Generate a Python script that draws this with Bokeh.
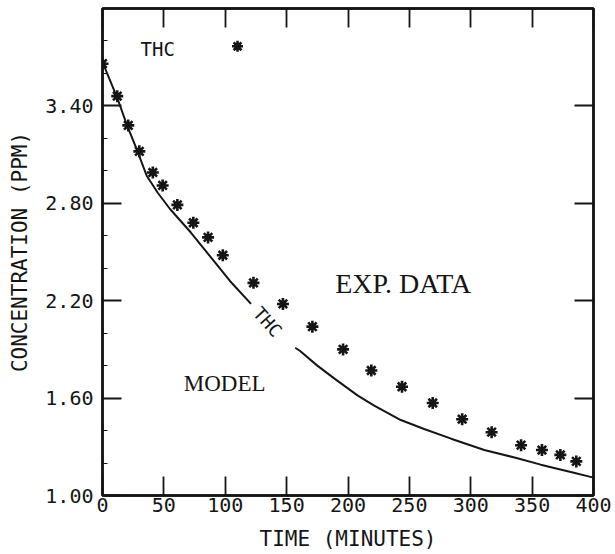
from bokeh.plotting import figure
from bokeh.models import Range1d, LinearAxis, FixedTicker, Label, NumeralTickFormatter
from bokeh.embed import file_html
from bokeh.resources import INLINE

nan = float("nan")

# Experimental data (asterisks)
exp_time = [0, 12, 21, 30, 41, 49, 61, 74, 86, 98, 123, 147, 171, 196, 219,
            244, 269, 293, 317, 341, 358, 373, 386]
exp_conc = [3.66, 3.46, 3.28, 3.12, 2.99, 2.91, 2.79, 2.68, 2.59, 2.48, 2.31,
            2.18, 2.04, 1.90, 1.77, 1.67, 1.57, 1.47, 1.39, 1.31, 1.28, 1.25, 1.21]

# Model curve (gap where the curve label sits)
model_time = [0, 12, 20, 28, 36, 45, 55, 72, 88, 104, 121, nan, 157, 161, 175,
              189, 208, 221, 243, 262, 284, 311, 338, 357, 384, 400]
model_conc = [3.67, 3.45, 3.28, 3.13, 2.97, 2.865, 2.765, 2.62, 2.47, 2.32, 2.18,
              nan, 1.91, 1.89, 1.80, 1.72, 1.615, 1.555, 1.465, 1.41, 1.35, 1.28,
              1.23, 1.19, 1.14, 1.11]

x_ticks = [0, 50, 100, 150, 200, 250, 300, 350, 400]
y_ticks = [1.0, 1.6, 2.2, 2.8, 3.4]
y_minor = [1.2, 1.4, 1.8, 2.0, 2.4, 2.6, 3.0, 3.2, 3.6, 3.8]

INK = "#151515"
MONO = "DejaVu Sans Mono"

p = figure(width=615, height=554, x_range=Range1d(0, 400), y_range=Range1d(1.0, 4.0),
           output_backend="svg", toolbar_location=None,
           min_border_left=102, min_border_right=22, min_border_top=8, min_border_bottom=59)
p.background_fill_color = "white"
p.border_fill_color = "white"
p.xgrid.visible = False
p.ygrid.visible = False
p.outline_line_color = INK
p.outline_line_width = 2.5

# bottom axis
xa = p.xaxis[0]
xa.ticker = FixedTicker(ticks=x_ticks)
xa.axis_label = "TIME (MINUTES)"

# left axis
ya = p.yaxis[0]
ya.ticker = FixedTicker(ticks=y_ticks, minor_ticks=y_minor)
ya.formatter = NumeralTickFormatter(format="0.00")
ya.axis_label = "CONCENTRATION (PPM)"

for ax in (xa, ya):
    ax.axis_line_color = INK
    ax.axis_line_width = 2.5
    ax.major_tick_in = 19
    ax.major_tick_out = 0
    ax.major_tick_line_color = INK
    ax.major_tick_line_width = 1.8
    ax.minor_tick_in = 5
    ax.minor_tick_out = 0
    ax.minor_tick_line_color = INK
    ax.minor_tick_line_width = 1.2
    ax.major_label_text_font = MONO
    ax.major_label_text_font_size = "20px"
    ax.major_label_text_color = INK
    ax.axis_label_text_font = MONO
    ax.axis_label_text_font_size = "21px"
    ax.axis_label_text_font_style = "normal"
    ax.axis_label_text_color = INK
xa.minor_tick_line_color = None
xa.major_label_standoff = 2
xa.axis_label_standoff = 12
ya.major_label_standoff = 9
ya.axis_label_standoff = 10

# top and right axes: ticks only, no labels
top = LinearAxis(ticker=FixedTicker(ticks=x_ticks))
right = LinearAxis(ticker=FixedTicker(ticks=y_ticks))
for ax in (top, right):
    ax.axis_line_color = INK
    ax.axis_line_width = 2.5
    ax.major_tick_in = 19
    ax.major_tick_out = 0
    ax.major_tick_line_color = INK
    ax.major_tick_line_width = 1.8
    ax.minor_tick_line_color = None
    ax.major_label_text_font_size = "1px"
    ax.major_label_text_color = None
    ax.major_label_text_alpha = 0
    ax.major_label_standoff = 0
p.add_layout(top, "above")
p.add_layout(right, "right")

# model curve
p.line(model_time, model_conc, line_color=INK, line_width=2)

# experimental data
p.scatter(exp_time, exp_conc, marker="asterisk", size=12, line_color=INK, line_width=2.6)

# legend-like key at top-left
p.add_layout(Label(x=45, y=3.752, text="THC", text_font=MONO, text_font_size="19px",
                   text_color=INK, text_align="center", text_baseline="middle"))
p.scatter([110], [3.767], marker="asterisk", size=11, line_color=INK, line_width=2.6)

# curve label
p.add_layout(Label(x=134.5, y=2.07, text="THC", text_font=MONO, text_font_size="18px",
                   text_color=INK, text_align="center", text_baseline="middle",
                   angle=-0.84))

p.add_layout(Label(x=99.5, y=1.693, text="MODEL", text_font="Liberation Serif",
                   text_font_size="23px", text_color=INK, text_align="center",
                   text_baseline="middle"))
p.add_layout(Label(x=245, y=2.305, text="EXP. DATA", text_font="Liberation Serif",
                   text_font_size="28px", text_color=INK, text_align="center",
                   text_baseline="middle"))

open("out.html", "w").write(file_html(p, INLINE))
